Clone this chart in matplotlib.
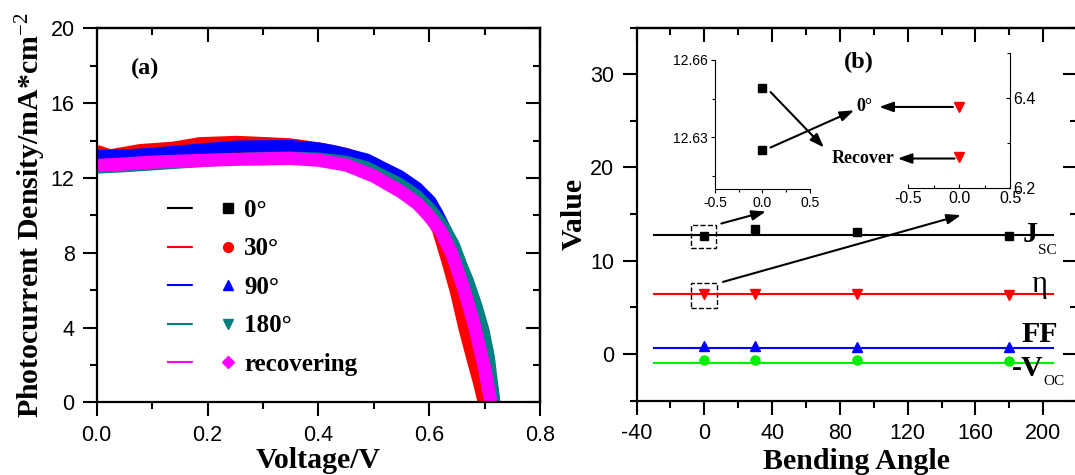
import matplotlib
matplotlib.use("Agg")
import matplotlib.pyplot as plt
from matplotlib.ticker import MultipleLocator
from matplotlib.lines import Line2D
from matplotlib.legend_handler import HandlerTuple
from matplotlib.patches import Rectangle

plt.rcParams['font.family'] = 'Liberation Sans'
plt.rcParams['axes.unicode_minus'] = False
plt.rcParams['mathtext.fontset'] = 'custom'
plt.rcParams['mathtext.rm'] = 'Liberation Serif'
plt.rcParams['mathtext.it'] = 'Liberation Serif:italic'
plt.rcParams['mathtext.bf'] = 'Liberation Serif:bold'

# ---- (a) J-V curves ----
v_0 = [0.0, 0.1, 0.2, 0.3, 0.4, 0.45, 0.5, 0.55, 0.58, 0.6, 0.62, 0.64, 0.66, 0.68,
       0.7, 0.714, 0.718]
j_0 = [12.95, 13.05, 13.15, 13.25, 13.2, 13.0, 12.55, 11.8, 11.1, 10.4, 9.5, 8.3, 6.8,
       5.0, 2.7, 0.4, -0.5]

v_30 = [0.0, 0.024, 0.078, 0.138, 0.186, 0.253, 0.3, 0.349, 0.403, 0.45, 0.5, 0.55,
        0.58, 0.6, 0.6155, 0.6336, 0.648, 0.664, 0.678, 0.69, 0.697, 0.70]
j_30 = [13.46, 13.22, 13.5, 13.63, 13.87, 13.94, 13.88, 13.81, 13.58, 13.3, 12.8, 11.9,
        11.0, 10.1, 9.22, 7.44, 5.9, 3.87, 2.3, 1.0, 0.13, -0.5]

v_90 = [0.0, 0.05, 0.1, 0.186, 0.253, 0.35, 0.4, 0.427, 0.487, 0.517, 0.547, 0.578,
        0.602, 0.615, 0.63, 0.645, 0.66, 0.68, 0.70, 0.715, 0.72]
j_90 = [13.19, 13.22, 13.3, 13.53, 13.69, 13.72, 13.59, 13.45, 13.0, 12.55, 12.11, 11.48,
        10.77, 10.1, 9.2, 8.2, 7.0, 5.1, 2.8, 0.6, -0.5]

v_180 = [0.0, 0.05, 0.1, 0.15, 0.2, 0.25, 0.3, 0.35, 0.4, 0.45, 0.487, 0.547, 0.578,
         0.602, 0.615, 0.63, 0.645, 0.657, 0.67, 0.685, 0.698, 0.708, 0.717, 0.72]
j_180 = [12.55, 12.62, 12.72, 12.82, 12.92, 13.02, 13.08, 13.1, 13.05, 12.88, 12.58, 11.69,
         11.06, 10.35, 9.85, 9.22, 8.4, 7.44, 6.5, 5.2, 3.87, 2.4, 0.13, -0.5]

v_rec = [0.0, 0.05, 0.1, 0.15, 0.2, 0.25, 0.3, 0.35, 0.4, 0.45, 0.5, 0.55, 0.58, 0.6,
         0.62, 0.64, 0.66, 0.68, 0.70, 0.71, 0.714]
j_rec = [12.67, 12.75, 12.85, 12.9, 12.95, 13.0, 13.02, 13.05, 12.95, 12.7, 12.1, 11.25,
         10.6, 9.95, 9.2, 8.0, 6.3, 4.3, 1.8, 0.2, -0.5]

legend_labels = ['0°', '30°', '90°', '180°', 'recovering']

# ---- (b) parameters vs bending angle ----
angles = [0, 30, 90, 180]
jsc = [12.63, 13.37, 13.02, 12.66]
eta = [6.38, 6.4, 6.45, 6.36]
ff = [0.8, 0.8, 0.78, 0.76]
neg_voc = [-0.7, -0.7, -0.7, -0.72]
line_span = [-30, 206]
jsc_level = 12.75
eta_level = 6.4
ff_level = 0.62
voc_level = -0.95

# insets: 0 deg vs recovered
inset_x = [0.0, 0.0]
inset_jsc = [12.625, 12.649]
inset_eta = [6.38, 6.27]

serif = 'Liberation Serif'

fig = plt.figure(figsize=(10.75, 4.75), dpi=100)

# ================= panel (a) =================
ax = fig.add_axes([0.09, 0.1528, 0.4124, 0.7874])
ax.plot(v_0, j_0, color='black', lw=8.5, solid_capstyle='butt')
ax.plot(v_30, j_30, color='red', lw=8.5, solid_capstyle='butt')
ax.plot(v_90, j_90, color='blue', lw=8.5, solid_capstyle='butt')
ax.plot(v_180, j_180, color='#008080', lw=8.5, solid_capstyle='butt')
ax.plot(v_rec, j_rec, color='magenta', lw=9.5, solid_capstyle='butt')

ax.set_xlim(0, 0.8)
ax.set_ylim(0, 20)
ax.xaxis.set_minor_locator(MultipleLocator(0.1))
ax.yaxis.set_major_locator(MultipleLocator(4))
ax.yaxis.set_minor_locator(MultipleLocator(2))
ax.set_xticks([0, 0.2, 0.4, 0.6, 0.8], ['0.0', '0.2', '0.4', '0.6', '0.8'])
ax.set_xlabel('Voltage/V', fontfamily=serif, fontweight='bold', fontsize=21.5, labelpad=1)
ax.set_ylabel('Photocurrent Density/mA*cm$^{-2}$', fontfamily=serif, fontweight='bold',
              fontsize=21.5, labelpad=2)
ax.text(0.1085, 0.8925, '(a)', transform=ax.transAxes, fontfamily=serif, fontweight='bold',
        fontsize=17.5, ha='center', va='center')

styles = [('black', 's', 6.5), ('red', 'o', 7), ('blue', '^', 7.5),
          ('#008080', 'v', 7.5), ('magenta', 'D', 6.5)]
handles = []
for c, m, ms in styles:
    ln = Line2D([], [], color=c, lw=1.5)
    gap = Line2D([], [], ls='none', marker='s', ms=16.5, color='white')
    mk = Line2D([], [], ls='none', marker=m, ms=ms, color=c)
    handles.append((ln, gap, mk))
ax.legend(handles, legend_labels, handler_map={tuple: HandlerTuple(ndivide=None, pad=0)},
          loc='upper left', bbox_to_anchor=(0.161, 0.544), frameon=False,
          prop={'family': serif, 'weight': 'bold', 'size': 18},
          handlelength=2.85, handletextpad=0.2, labelspacing=0.62,
          borderpad=0, borderaxespad=0)

# ================= panel (b) =================
bx = fig.add_axes([0.5922, 0.1568, 0.4097, 0.7853])
bx.plot(line_span, [jsc_level] * 2, color='black', lw=1.5)
bx.plot(line_span, [eta_level] * 2, color='red', lw=1.5)
bx.plot(line_span, [ff_level] * 2, color='blue', lw=1.5)
bx.plot(line_span, [voc_level] * 2, color='#00ee00', lw=1.5)
bx.plot(angles, jsc, ls='none', marker='s', ms=6, color='black')
bx.plot(angles, eta, ls='none', marker='v', ms=7.5, color='red')
bx.plot(angles, ff, ls='none', marker='^', ms=7.5, color='blue')
bx.plot(angles, neg_voc, ls='none', marker='o', ms=6.5, color='#00ee00')

bx.set_xlim(-40, 220)
bx.set_ylim(-5, 35)
bx.set_xticks([-40, 0, 40, 80, 120, 160, 200])
bx.xaxis.set_minor_locator(MultipleLocator(20))
bx.set_yticks([0, 10, 20, 30])
bx.yaxis.set_minor_locator(MultipleLocator(5))
bx.set_xlabel('Bending Angle', fontfamily=serif, fontweight='bold', fontsize=21.5, labelpad=3)
bx.set_ylabel('Value', fontfamily=serif, fontweight='bold', fontsize=21.5, labelpad=2)

# dashed boxes around the 0 deg points
bx.add_patch(Rectangle((-7.6, 11.33), 14.4, 2.51, fill=False, ls='--', lw=1, ec='black'))
bx.add_patch(Rectangle((-7.6, 4.96), 15.0, 2.61, fill=False, ls='--', lw=1, ec='black'))

arrow = dict(arrowstyle='-|>,head_length=0.7,head_width=0.25', color='black', lw=1.5,
             mutation_scale=12, shrinkA=0, shrinkB=0)
bx.annotate('', xy=(36.3, 15.27), xytext=(10.0, 13.98), arrowprops=arrow)
bx.annotate('', xy=(151.5, 14.88), xytext=(11.0, 7.72), arrowprops=arrow)
bx.annotate('', xy=(88.4, 26.12), xytext=(39.05, 22.13), arrowprops=arrow)
bx.annotate('', xy=(70.6, 22.13), xytext=(39.05, 28.08), arrowprops=arrow)
bx.annotate('', xy=(103.2, 26.48), xytext=(146.7, 26.48), arrowprops=arrow)
bx.annotate('', xy=(114.1, 20.95), xytext=(147.7, 20.95), arrowprops=arrow)

bx.text(94.4, 26.5, '0°', fontfamily=serif, fontweight='bold', fontsize=13,
        ha='center', va='center')
bx.text(93.4, 20.95, 'Recover', fontfamily=serif, fontweight='bold', fontsize=13,
        ha='center', va='center')
bx.text(91.4, 31.3, '(b)', fontfamily=serif, fontweight='bold', fontsize=17.5,
        ha='center', va='center')

lab = dict(fontfamily=serif, clip_on=False, va='baseline', ha='left')
bx.text(187.6, 12.0, 'J', fontweight='bold', fontsize=21.5, **lab)
bx.text(197.0, 10.7, 'SC', fontsize=11, **lab)
bx.text(193.0, 6.67, 'η', fontsize=22, **lab)
bx.text(187.3, 1.32, 'FF', fontweight='bold', fontsize=21.5, **lab)
bx.text(181.4, -2.36, '-V', fontweight='bold', fontsize=21.5, **lab)
bx.text(199.9, -3.32, 'OC', fontsize=11, **lab)

# tick styling for both main panels: outward on bottom/left, inward mirrored
for a in (ax, bx):
    for s in a.spines.values():
        s.set_linewidth(1.6)
    a.tick_params(which='major', direction='out', length=10, width=1.5,
                  labelsize=15.5, pad=6)
    a.tick_params(which='minor', direction='out', length=5, width=1.5)
    top = a.secondary_xaxis('top')
    top.set_xticks(a.get_xticks())
    top.xaxis.set_minor_locator(a.xaxis.get_minor_locator())
    top.tick_params(which='both', direction='in', labeltop=False, width=1.5)
    top.tick_params(which='major', length=10)
    top.tick_params(which='minor', length=5)
    top.spines['top'].set_linewidth(1.6)
    right = a.secondary_yaxis('right')
    right.set_yticks(a.get_yticks())
    right.yaxis.set_minor_locator(a.yaxis.get_minor_locator())
    right.tick_params(which='both', direction='in', labelright=False, width=1.5)
    right.tick_params(which='major', length=10)
    right.tick_params(which='minor', length=5)
    right.spines['right'].set_linewidth(1.6)

# ---- inset 1: Jsc ----
i1 = fig.add_axes([0.6651, 0.6021, 0.0884, 0.2716])
i1.plot(inset_x, inset_jsc, ls='none', marker='s', ms=5.5, color='black')
i1.set_xlim(-0.5, 0.5)
i1.set_ylim(12.61, 12.66)
i1.set_xticks([-0.5, 0.0, 0.5], ['-0.5', '0.0', '0.5'])
i1.xaxis.set_minor_locator(MultipleLocator(0.25))
i1.set_yticks([12.63, 12.66], ['12.63', '12.66'])
i1.yaxis.set_minor_locator(MultipleLocator(0.015))
i1.spines['top'].set_visible(False)
i1.spines['right'].set_visible(False)
i1.patch.set_alpha(0)
i1.tick_params(which='both', direction='out', labelsize=10, width=0.8, pad=2)
i1.tick_params(which='major', length=3)
i1.tick_params(which='minor', length=2)

# ---- inset 2: efficiency ----
i2 = fig.add_axes([0.8447, 0.6042, 0.0949, 0.2842])
i2.plot(inset_x, inset_eta, ls='none', marker='v', ms=7, color='red')
i2.set_xlim(-0.5, 0.5)
i2.set_ylim(6.2, 6.5)
i2.set_xticks([-0.5, 0.0, 0.5], ['-0.5', '0.0', '0.5'])
i2.xaxis.set_minor_locator(MultipleLocator(0.25))
i2.set_yticks([6.2, 6.4], ['6.2', '6.4'])
i2.yaxis.set_minor_locator(MultipleLocator(0.1))
i2.yaxis.tick_right()
i2.spines['top'].set_visible(False)
i2.spines['left'].set_visible(False)
i2.patch.set_alpha(0)
i2.tick_params(which='both', direction='in', labelsize=11.5, width=0.8, pad=2)
i2.tick_params(which='major', length=3)
i2.tick_params(which='minor', length=2)

fig.savefig('out.png', dpi=100)
